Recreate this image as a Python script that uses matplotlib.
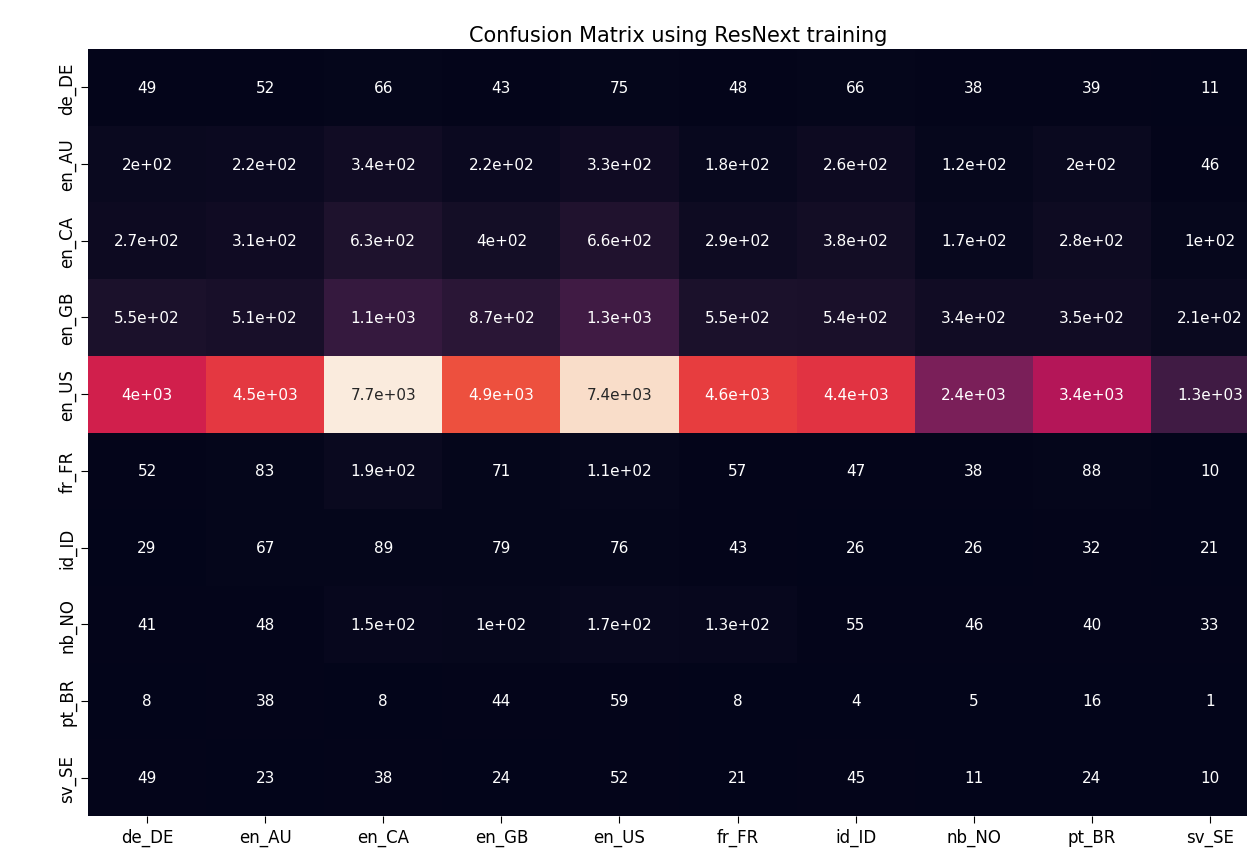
import numpy as np
import matplotlib
matplotlib.use("Agg")
import matplotlib.pyplot as plt
import seaborn as sns

labels = ["de_DE", "en_AU", "en_CA", "en_GB", "en_US", "fr_FR", "id_ID", "nb_NO", "pt_BR", "sv_SE"]

row_de_DE = [49, 52, 66, 43, 75, 48, 66, 38, 39, 11]
row_en_AU = [200, 220, 340, 220, 330, 180, 260, 120, 200, 46]
row_en_CA = [270, 310, 630, 400, 660, 290, 380, 170, 280, 100]
row_en_GB = [550, 510, 1100, 870, 1300, 550, 540, 340, 350, 210]
row_en_US = [4000, 4500, 7700, 4900, 7400, 4600, 4400, 2400, 3400, 1300]
row_fr_FR = [52, 83, 190, 71, 110, 57, 47, 38, 88, 10]
row_id_ID = [29, 67, 89, 79, 76, 43, 26, 26, 32, 21]
row_nb_NO = [41, 48, 150, 100, 170, 130, 55, 46, 40, 33]
row_pt_BR = [8, 38, 8, 44, 59, 8, 4, 5, 16, 1]
row_sv_SE = [49, 23, 38, 24, 52, 21, 45, 11, 24, 10]

matrix = np.array([row_de_DE, row_en_AU, row_en_CA, row_en_GB, row_en_US,
                   row_fr_FR, row_id_ID, row_nb_NO, row_pt_BR, row_sv_SE])

fig = plt.figure(figsize=(12.47, 8.53), dpi=100)
ax = fig.add_axes([88/1247, (853-817)/853, 1181/1247, (817-50)/853])
sns.heatmap(matrix, annot=True, cbar=False, xticklabels=labels, yticklabels=labels,
            ax=ax, annot_kws={"fontsize": 11})
ax.set_title("Confusion Matrix using ResNext training", fontsize=15)
ax.tick_params(axis="both", labelsize=12, length=5)
plt.setp(ax.get_yticklabels(), rotation=90, va="center")
fig.savefig("out.png", dpi=100)
